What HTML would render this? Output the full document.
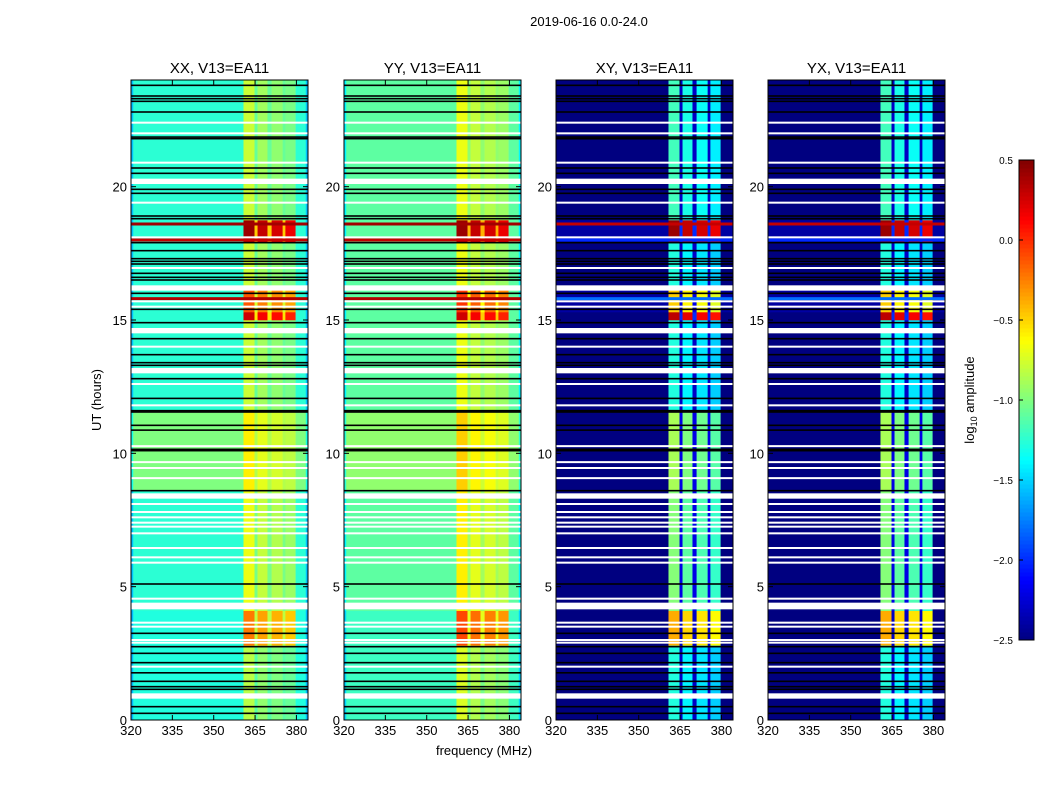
<!DOCTYPE html>
<html><head><meta charset="utf-8"><style>
body{margin:0;background:#fff;}
svg text{font-family:"Liberation Sans",sans-serif;}
</style></head><body>
<svg id="fig" width="1050" height="800" xmlns="http://www.w3.org/2000/svg">
<text x="589" y="26" font-size="13" text-anchor="middle">2019-06-16 0.0-24.0</text>
<text x="484" y="755" font-size="13" text-anchor="middle">frequency (MHz)</text>
<text x="101" y="400" font-size="13" text-anchor="middle" transform="rotate(-90 101 400)">UT (hours)</text>
<text x="974" y="400" font-size="13" text-anchor="middle" transform="rotate(-90 974 400)">log<tspan font-size="9" dy="3">10</tspan><tspan dy="-3"> amplitude</tspan></text>
</svg>
<script>
// ---- data ----
const panelNames = ["XX, V13=EA11","YY, V13=EA11","XY, V13=EA11","YX, V13=EA11"];
const freqEdges = [320, 320.8, 360.8, 364.8, 365.9, 369.5, 371.0, 375.0, 376.0, 379.7, 383.4, 384.2];
const colKinds = ["edge","base","band","gap","band","gap","band","gap","band","base","edge"];
const bandOffsets = [0.12, 0.0, -0.05, -0.12];
const segEdges = [0, 2.8, 4.1, 8.6, 11.6, 15.0, 15.3, 16.2, 17.9, 18.75, 24];
const baseXX = [-1.28,-1.28,-1.25,-1.0,-1.25,-1.25,-1.25,-1.25,-1.25,-1.25];
const bandXX = [-0.95,-0.35,-0.8,-0.7,-0.9,0.15,-0.25,-0.9,0.3,-0.9];
const baseYY = [-1.2,-1.2,-1.1,-0.95,-1.1,-1.1,-1.1,-1.1,-1.1,-1.1];
const bandYY = [-0.85,-0.2,-0.7,-0.6,-0.8,0.15,-0.15,-0.8,0.3,-0.8];
const baseXY = [-2.5,-2.5,-2.5,-2.5,-2.5,-2.5,-2.4,-2.5,-2.4,-2.5];
const bandXY = [-1.4,-0.5,-1.1,-1.0,-1.4,0.2,-0.6,-1.4,0.3,-1.3];
const gapXY = [-2.3,-2.3,-2.2,-2.2,-2.3,-2.0,-2.2,-2.3,-2.0,-2.3];
const fullLineHours = [18.6, 18.0, 15.8];
const fullLineVals = [[0.4,0.3,0.35],[0.4,0.3,0.35],[0.3,-2.0,-1.8],[0.3,-2.0,-1.8]];
const whiteLines = [22.4,22.0,20.9,19.4,18.1,16.95,15.7,15.5,14.0,12.6,11.8,10.27,9.67,9.45,9.07,8.1,7.8,7.6,7.4,7.25,7.0,6.45,6.1,5.9,4.55,3.65,3.5,3.0,2.9,2.0];
const thickWhites = [[20.1,20.3],[16.1,16.3],[14.5,14.7],[13.0,13.2],[8.3,8.5],[4.15,4.4],[0.8,1.0]];
const blackLines = [23.8,23.4,23.3,23.2,22.8,21.86,21.8,20.7,20.5,19.9,19.75,18.9,18.8,17.9,17.6,17.3,17.2,17.1,16.75,16.6,16.5,16.0,15.4,14.9,14.3,13.7,13.4,13.3,12.8,12.06,11.6,11.55,11.05,10.87,10.15,10.1,8.6,5.1,3.25,2.75,2.5,2.15,1.77,1.45,1.25,1.15,0.5,0.25];
const xTicks = [320,335,350,365,380];
const yTicks = [0,5,10,15,20];
const cbTicks = [0.5,0.0,-0.5,-1.0,-1.5,-2.0,-2.5];
const cbLabels = ["0.5","0.0","\u22120.5","\u22121.0","\u22121.5","\u22122.0","\u22122.5"];
// ---- layout ----
const NS="http://www.w3.org/2000/svg";
const svg=document.getElementById('fig');
const panelX=[131,344,556,768], PW=177, PT=80, PB=720;
const vmin=-2.5, vmax=0.5, fmin=320, fmax=384.2;
function jet(v){let t=(v-vmin)/(vmax-vmin);t=Math.max(0,Math.min(1,t));
 const c=x=>Math.round(255*Math.max(0,Math.min(1,1.5-Math.abs(4*t-x))));
 return `rgb(${c(3)},${c(2)},${c(1)})`;}
function mk(tag,attrs,parent){const e=document.createElementNS(NS,tag);for(const k in attrs)e.setAttribute(k,attrs[k]);(parent||svg).appendChild(e);return e;}
const yS=h=>PB-(h/24)*(PB-PT);
panelNames.forEach((name,p)=>{
 const x0=panelX[p];
 const xS=f=>x0+(f-fmin)/(fmax-fmin)*PW;
 const g=mk('g',{});
 
 
 const base=[baseXX,baseYY,baseXY,baseXY][p], band=[bandXX,bandYY,bandXY,bandXY][p];
 for(let s=0;s<segEdges.length-1;s++){
  let bi=0;
  for(let c=0;c<colKinds.length;c++){
   const k=colKinds[c]; let v;
   if(k==="band"){v=band[s]+bandOffsets[bi];bi++;}
   else if(k==="gap"){v=p>=2?gapXY[s]:(base[s]+band[s])/2;}
   else if(k==="edge"){v=p>=2?base[s]:base[s]-0.3;}
   else v=base[s];
   const r=mk('rect',{x:xS(freqEdges[c]),y:yS(segEdges[s+1]),width:xS(freqEdges[c+1])-xS(freqEdges[c])+0.3,height:yS(segEdges[s])-yS(segEdges[s+1])+0.3,fill:jet(v)},g);
   
   
  }
 }
 fullLineHours.forEach((h,i)=>{const r=mk('rect',{x:x0,y:yS(h)-1.5,width:PW,height:3,fill:jet(fullLineVals[p][i])},g);
  });
 whiteLines.forEach(h=>{const r=mk('rect',{x:x0,y:yS(h)-1,width:PW,height:2,fill:'#fff'},g);
  });
 thickWhites.forEach(a=>{const r=mk('rect',{x:x0,y:yS(a[1]),width:PW,height:yS(a[0])-yS(a[1]),fill:'#fff'},g);
  });
 blackLines.forEach(h=>{const r=mk('rect',{x:x0,y:yS(h)-0.8,width:PW,height:1.6,fill:'#000'},g);
  });
 const fr=mk('rect',{x:x0,y:PT,width:PW,height:PB-PT,fill:'none',stroke:'#000','stroke-width':1},g);
 
 const t=mk('text',{x:x0+PW/2,y:73,'font-size':15,'text-anchor':'middle'},g);t.textContent=name;
 
 xTicks.forEach(f=>{const X=xS(f);
  mk('line',{x1:X,x2:X,y1:PB,y2:PB-5,stroke:'#000'},g);mk('line',{x1:X,x2:X,y1:PT,y2:PT+5,stroke:'#000'},g);
  const l=mk('text',{x:X,y:PB+15,'font-size':13,'text-anchor':'middle'},g);l.textContent=f;
  });
 yTicks.forEach(h=>{const Y=yS(h);
  mk('line',{x1:x0,x2:x0+5,y1:Y,y2:Y,stroke:'#000'},g);mk('line',{x1:x0+PW,x2:x0+PW-5,y1:Y,y2:Y,stroke:'#000'},g);
  const l=mk('text',{x:x0-4,y:Y+5,'font-size':13,'text-anchor':'end'},g);l.textContent=h;
  });
});
// colorbar
const cbX=1019,cbW=15,cbT=160,cbB=640;
const cg=mk('g',{});


const cbS=v=>cbB-(v-vmin)/(vmax-vmin)*(cbB-cbT);
for(let i=0;i<120;i++){const v=vmin+(i+0.5)*(vmax-vmin)/120;
 mk('rect',{x:cbX,y:cbS(vmin+(i+1)*(vmax-vmin)/120),width:cbW,height:(cbB-cbT)/120+0.5,fill:jet(v)},cg);}
mk('rect',{x:cbX,y:cbT,width:cbW,height:cbB-cbT,fill:'none',stroke:'#000'},cg);
cbTicks.forEach((v,i)=>{const Y=cbS(v);
 mk('line',{x1:cbX,x2:cbX+4,y1:Y,y2:Y,stroke:'#000'},cg);
 const l=mk('text',{x:cbX-6,y:Y+4,'font-size':10,'text-anchor':'end'},cg);l.textContent=cbLabels[i];
 });
</script>
</body></html>
